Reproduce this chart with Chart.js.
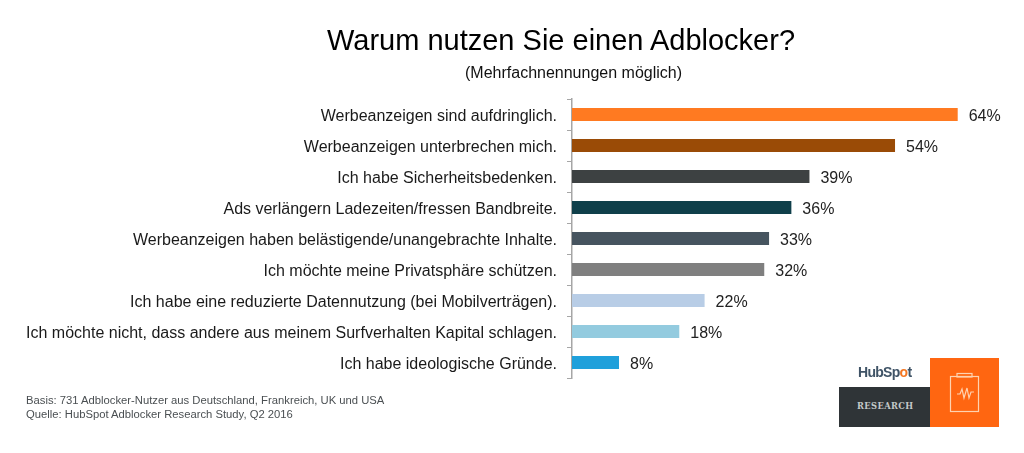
<!DOCTYPE html>
<html>
<head>
<meta charset="utf-8">
<script src="https://cdn.jsdelivr.net/npm/chart.js@4"></script>
<style>
body { margin: 0; background: #fff; font-family: "Liberation Sans", sans-serif; }
#wrap { position: relative; width: 1024px; height: 453px; overflow: hidden; }
#chart1 { position: absolute; left: 0; top: 0; }
.txt { position: absolute; white-space: nowrap; }
#title { left: 327px; top: 24px; font-size: 29px; color: #000; }
#sub { left: 465px; top: 64px; font-size: 16px; color: #111; }
#foot { left: 26px; top: 394px; font-size: 11.25px; line-height: 13.5px; color: #4a4f52; }
#hs { left: 858px; top: 364px; font-size: 14px; font-weight: bold; color: #3f5366; letter-spacing: -0.7px; }
#hs span { color: #f57722; }
#dark { position: absolute; left: 839px; top: 387px; width: 91px; height: 40px; background: #2f3437; }
#res { left: 857px; top: 401px; font-family: "DejaVu Serif", serif; font-size: 8.3px; font-weight: bold; letter-spacing: 0.4px; color: #c4c8c8; }
#orange { position: absolute; left: 930px; top: 358px; width: 69px; height: 69px; background: #ff6611; }
</style>
</head>
<body>
<div id="wrap">
  <canvas id="chart1" width="1024" height="453"></canvas>
  <div class="txt" id="title">Warum nutzen Sie einen Adblocker?</div>
  <div class="txt" id="sub">(Mehrfachnennungen möglich)</div>
  <div class="txt" id="foot">Basis: 731 Adblocker-Nutzer aus Deutschland, Frankreich, UK und USA<br>Quelle: HubSpot Adblocker Research Study, Q2 2016</div>
  <div class="txt" id="hs">HubSp<span>o</span>t</div>
  <div id="dark"></div>
  <div class="txt" id="res">RESEARCH</div>
  <div id="orange">
    <svg width="69" height="69" fill="none" stroke="#ffd2b0" stroke-width="1.2">
      <rect x="20.5" y="18.5" width="28" height="35"/>
      <rect x="27" y="15.5" width="15" height="3.5"/>
      <path d="M27 36h3l2-5 2 9 3-10 2 10 2-6 3 0"/>
    </svg>
  </div>
</div>
<script>
var categories = [
    "Werbeanzeigen sind aufdringlich.",
    "Werbeanzeigen unterbrechen mich.",
    "Ich habe Sicherheitsbedenken.",
    "Ads verlängern Ladezeiten/fressen Bandbreite.",
    "Werbeanzeigen haben belästigende/unangebrachte Inhalte.",
    "Ich möchte meine Privatsphäre schützen.",
    "Ich habe eine reduzierte Datennutzung (bei Mobilverträgen).",
    "Ich möchte nicht, dass andere aus meinem Surfverhalten Kapital schlagen.",
    "Ich habe ideologische Gründe."
];
// bar lengths as measured, the printed labels are the rounded numbers
var values = [64, 53.6, 39.4, 36.4, 32.7, 31.9, 22, 17.8, 7.8];
var valueText = ["64%", "54%", "39%", "36%", "33%", "32%", "22%", "18%", "8%"];
var barColors = ["#ff7a21", "#9a4b06", "#3d4142", "#0f3f4a", "#46545f", "#7f7f7f", "#b8cde6", "#93cbdf", "#1fa0db"];

// writes the percent next to each bar
var valueLabels = {
    id: "valueLabels",
    afterDatasetsDraw: function (chart) {
        var ctx = chart.ctx;
        ctx.save();
        ctx.font = '16px "Liberation Sans"';
        ctx.fillStyle = "#222";
        ctx.textBaseline = "middle";
        chart.getDatasetMeta(0).data.forEach(function (bar, i) {
            ctx.fillText(valueText[i], bar.x + 11, bar.y + 2);
        });
        ctx.restore();
    }
};

var myBarChart = new Chart(document.getElementById("chart1"), {
    type: "bar",
    data: {
        labels: categories,
        datasets: [{
            data: values,
            backgroundColor: barColors,
            barPercentage: 0.42,
            categoryPercentage: 1
        }]
    },
    options: {
        indexAxis: "y",
        responsive: false,
        animation: false,
        layout: { padding: { top: 99, bottom: 75 } },
        plugins: { legend: { display: false }, tooltip: { enabled: false } },
        scales: {
            x: { display: false, min: 0, max: 75 },
            y: {
                afterFit: function (scale) { scale.width = 572; },
                border: { color: "#a6a6a6", width: 1.5 },
                grid: { drawOnChartArea: false, color: "#a6a6a6", tickLength: 5, lineWidth: 1 },
                ticks: {
                    color: "#1a1a1a",
                    padding: 10,
                    labelOffset: 2,
                    font: { family: "Liberation Sans", size: 16 }
                }
            }
        }
    },
    plugins: [valueLabels]
});
</script>
</body>
</html>
